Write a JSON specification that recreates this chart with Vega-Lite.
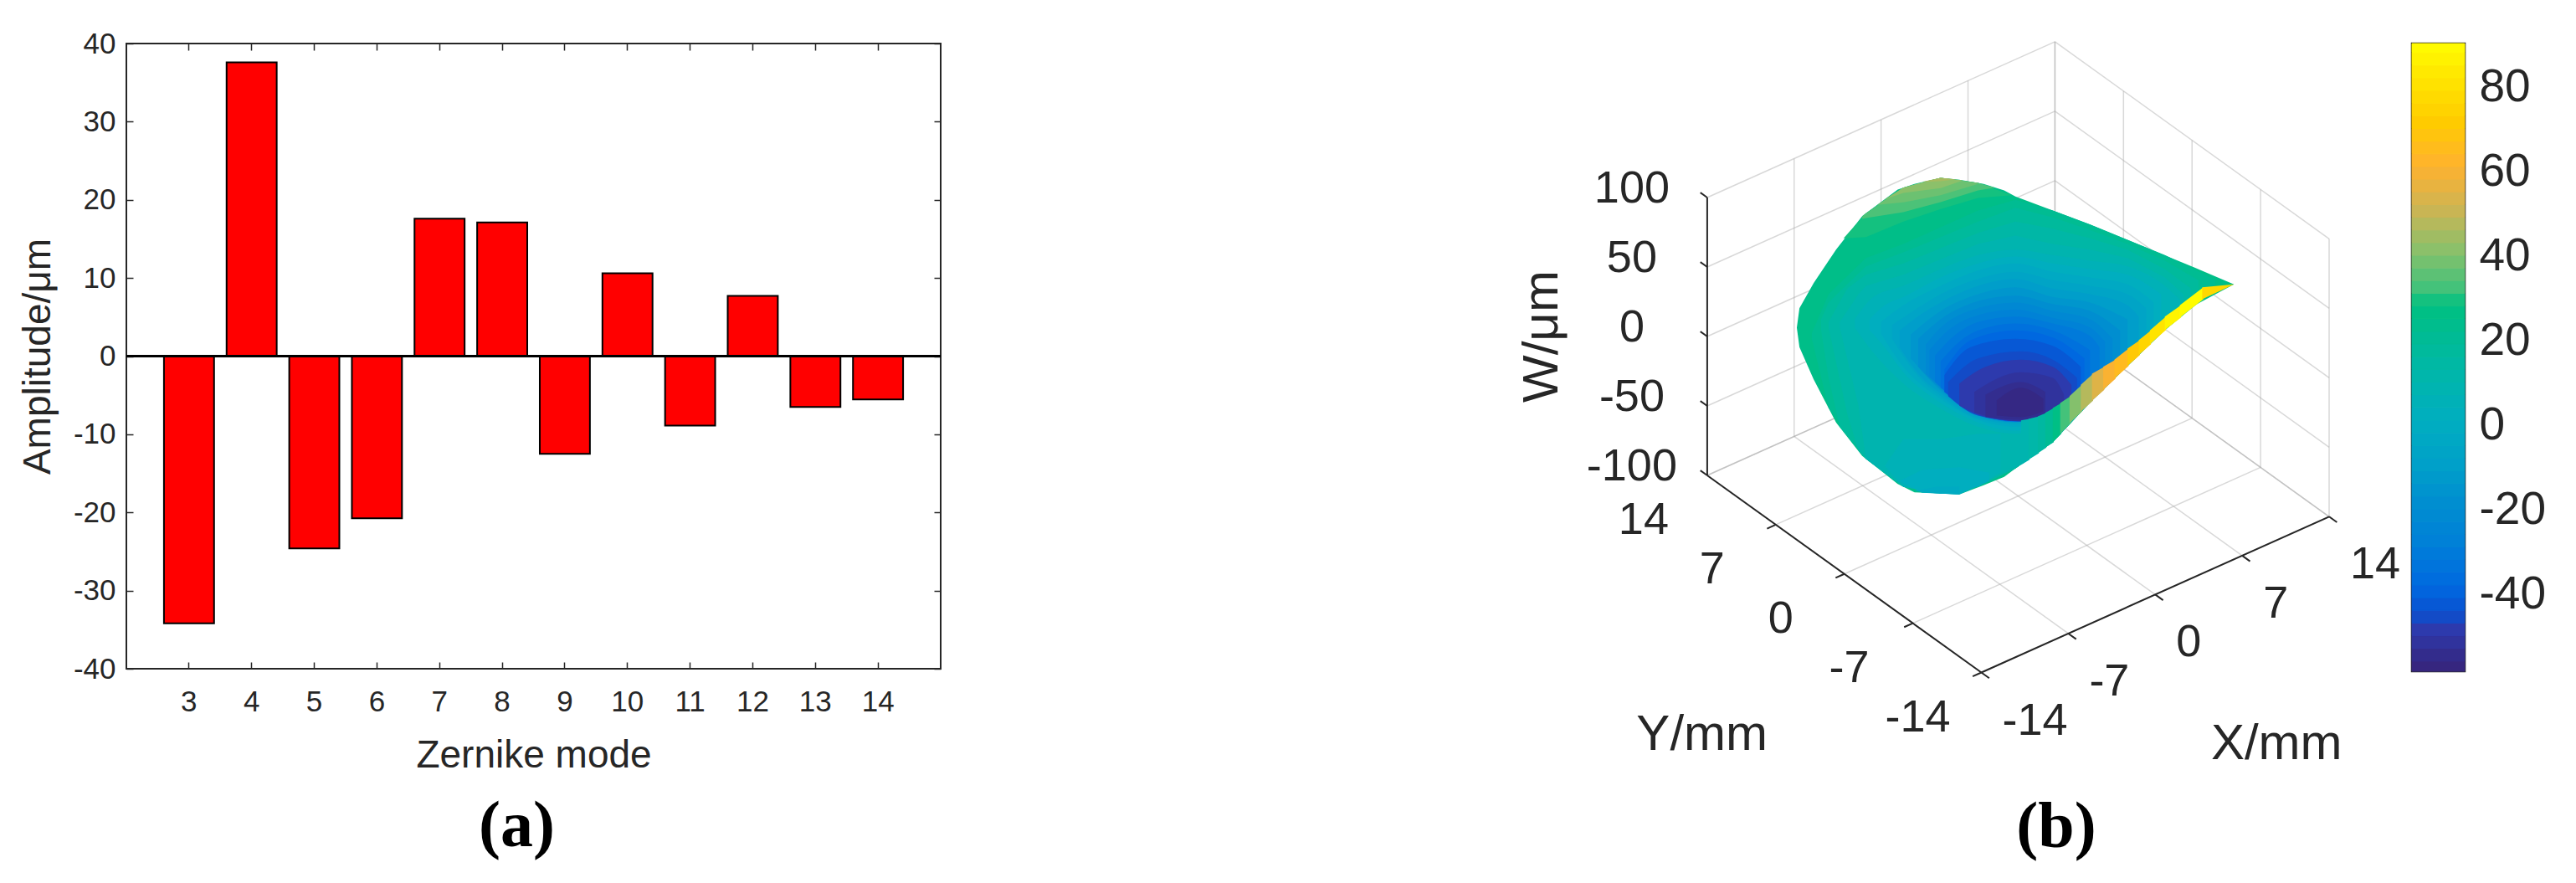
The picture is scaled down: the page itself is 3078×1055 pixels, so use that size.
{"$schema":"https://vega.github.io/schema/vega-lite/v6.json","background":"white","padding":{"left":21,"top":34,"right":0,"bottom":0},"bounds":"flush","spacing":20,"config":{"font":"Liberation Sans","axis":{"labelColor":"#262626","titleColor":"#262626","tickColor":"#262626","labelFont":"Liberation Sans","titleFont":"Liberation Sans","titleFontWeight":"normal"},"title":{"font":"Liberation Serif","fontWeight":"bold","fontSize":78,"color":"#000000"}},
"datasets":{
"bars":[{"mode":3,"amp":-34.2},{"mode":4,"amp":37.6},{"mode":5,"amp":-24.6},{"mode":6,"amp":-20.75},{"mode":7,"amp":17.6},{"mode":8,"amp":17.1},{"mode":9,"amp":-12.5},{"mode":10,"amp":10.6},{"mode":11,"amp":-8.9},{"mode":12,"amp":7.7},{"mode":13,"amp":-6.5},{"mode":14,"amp":-5.55}],
"grid":[{"X":-14,"Y":-14,"W":-100,"X2":-14,"Y2":14,"W2":-100},{"X":-7,"Y":-14,"W":-100,"X2":-7,"Y2":14,"W2":-100},{"X":0,"Y":-14,"W":-100,"X2":0,"Y2":14,"W2":-100},{"X":7,"Y":-14,"W":-100,"X2":7,"Y2":14,"W2":-100},{"X":14,"Y":-14,"W":-100,"X2":14,"Y2":14,"W2":-100},
{"X":-14,"Y":-14,"W":-100,"X2":14,"Y2":-14,"W2":-100},{"X":-14,"Y":-7,"W":-100,"X2":14,"Y2":-7,"W2":-100},{"X":-14,"Y":0,"W":-100,"X2":14,"Y2":0,"W2":-100},{"X":-14,"Y":7,"W":-100,"X2":14,"Y2":7,"W2":-100},{"X":-14,"Y":14,"W":-100,"X2":14,"Y2":14,"W2":-100},
{"X":-14,"Y":14,"W":-100,"X2":-14,"Y2":14,"W2":100},{"X":-7,"Y":14,"W":-100,"X2":-7,"Y2":14,"W2":100},{"X":0,"Y":14,"W":-100,"X2":0,"Y2":14,"W2":100},{"X":7,"Y":14,"W":-100,"X2":7,"Y2":14,"W2":100},{"X":14,"Y":14,"W":-100,"X2":14,"Y2":14,"W2":100},
{"X":-14,"Y":14,"W":-100,"X2":14,"Y2":14,"W2":-100},{"X":-14,"Y":14,"W":-50,"X2":14,"Y2":14,"W2":-50},{"X":-14,"Y":14,"W":0,"X2":14,"Y2":14,"W2":0},{"X":-14,"Y":14,"W":50,"X2":14,"Y2":14,"W2":50},{"X":-14,"Y":14,"W":100,"X2":14,"Y2":14,"W2":100},
{"X":14,"Y":-14,"W":-100,"X2":14,"Y2":-14,"W2":100},{"X":14,"Y":-7,"W":-100,"X2":14,"Y2":-7,"W2":100},{"X":14,"Y":0,"W":-100,"X2":14,"Y2":0,"W2":100},{"X":14,"Y":7,"W":-100,"X2":14,"Y2":7,"W2":100},{"X":14,"Y":14,"W":-100,"X2":14,"Y2":14,"W2":100},
{"X":14,"Y":-14,"W":-100,"X2":14,"Y2":14,"W2":-100},{"X":14,"Y":-14,"W":-50,"X2":14,"Y2":14,"W2":-50},{"X":14,"Y":-14,"W":0,"X2":14,"Y2":14,"W2":0},{"X":14,"Y":-14,"W":50,"X2":14,"Y2":14,"W2":50},{"X":14,"Y":-14,"W":100,"X2":14,"Y2":14,"W2":100}],
"axes":[{"X":-14,"Y":14,"W":-100,"X2":-14,"Y2":14,"W2":100},{"X":-14,"Y":-14,"W":-100,"X2":-14,"Y2":14,"W2":-100},{"X":-14,"Y":-14,"W":-100,"X2":14,"Y2":-14,"W2":-100},
{"X":-14,"Y":14,"W":-100,"X2":-14,"Y2":14.7,"W2":-100},{"X":-14,"Y":14,"W":-50,"X2":-14,"Y2":14.7,"W2":-50},{"X":-14,"Y":14,"W":0,"X2":-14,"Y2":14.7,"W2":0},{"X":-14,"Y":14,"W":50,"X2":-14,"Y2":14.7,"W2":50},{"X":-14,"Y":14,"W":100,"X2":-14,"Y2":14.7,"W2":100},
{"X":-14,"Y":7,"W":-100,"X2":-14.7,"Y2":7,"W2":-100},{"X":-14,"Y":0,"W":-100,"X2":-14.7,"Y2":0,"W2":-100},{"X":-14,"Y":-7,"W":-100,"X2":-14.7,"Y2":-7,"W2":-100},{"X":-14,"Y":-14,"W":-100,"X2":-14.7,"Y2":-14,"W2":-100},
{"X":-14,"Y":-14,"W":-100,"X2":-14,"Y2":-14.8,"W2":-100},{"X":-7,"Y":-14,"W":-100,"X2":-7,"Y2":-14.8,"W2":-100},{"X":0,"Y":-14,"W":-100,"X2":0,"Y2":-14.8,"W2":-100},{"X":7,"Y":-14,"W":-100,"X2":7,"Y2":-14.8,"W2":-100},{"X":14,"Y":-14,"W":-100,"X2":14,"Y2":-14.8,"W2":-100}],
"surface":[
{"g":1,"w":24,"u":215,"a":720,"b":720},{"g":1,"w":24,"u":222,"a":650,"b":790},{"g":1,"w":24,"u":260,"a":560,"b":905},{"g":1,"w":24,"u":320,"a":440,"b":1060},{"g":1,"w":24,"u":390,"a":320,"b":1180},{"g":1,"w":24,"u":485,"a":225,"b":1280},{"g":1,"w":24,"u":530,"a":205,"b":1310},{"g":1,"w":24,"u":600,"a":183,"b":1314},{"g":1,"w":24,"u":650,"a":190,"b":1318},{"g":1,"w":24,"u":715,"a":205,"b":1285},{"g":1,"w":24,"u":770,"a":228,"b":1255},{"g":1,"w":24,"u":800,"a":250,"b":1225},{"g":1,"w":24,"u":900,"a":300,"b":1130},{"g":1,"w":24,"u":1000,"a":350,"b":988},{"g":1,"w":24,"u":1090,"a":400,"b":870},{"g":1,"w":24,"u":1190,"a":455,"b":740},{"g":1,"w":24,"u":1280,"a":505,"b":640},{"g":1,"w":24,"u":1385,"a":565,"b":565},
{"g":2,"w":28,"u":340,"a":400,"b":400},{"g":2,"w":28,"u":400,"a":310,"b":395},{"g":2,"w":28,"u":500,"a":218,"b":340},{"g":2,"w":28,"u":600,"a":183,"b":295},{"g":2,"w":28,"u":700,"a":201,"b":255},{"g":2,"w":28,"u":790,"a":245,"b":245},
{"g":3,"w":32,"u":390,"a":320,"b":330},{"g":3,"w":32,"u":400,"a":310,"b":327},{"g":3,"w":32,"u":500,"a":218,"b":306},{"g":3,"w":32,"u":600,"a":183,"b":270},{"g":3,"w":32,"u":700,"a":201,"b":228},{"g":3,"w":32,"u":745,"a":218,"b":218},
{"g":4,"w":36,"u":430,"a":280,"b":280},{"g":4,"w":36,"u":500,"a":218,"b":271},{"g":4,"w":36,"u":600,"a":183,"b":245},{"g":4,"w":36,"u":700,"a":201,"b":205},
{"g":5,"w":40,"u":450,"a":260,"b":260},{"g":5,"w":40,"u":500,"a":218,"b":237},{"g":5,"w":40,"u":600,"a":183,"b":220},{"g":5,"w":40,"u":660,"a":192,"b":192},
{"g":6,"w":44,"u":550,"a":197,"b":197},{"g":6,"w":44,"u":600,"a":183,"b":195},{"g":6,"w":44,"u":640,"a":188,"b":188},
{"g":7,"w":20,"u":255,"a":740,"b":760},{"g":7,"w":20,"u":300,"a":600,"b":1008},{"g":7,"w":20,"u":400,"a":470,"b":1190},{"g":7,"w":20,"u":500,"a":420,"b":1290},{"g":7,"w":20,"u":600,"a":360,"b":1314},{"g":7,"w":20,"u":700,"a":300,"b":1290},{"g":7,"w":20,"u":800,"a":262,"b":1225},{"g":7,"w":20,"u":900,"a":300,"b":1130},{"g":7,"w":20,"u":1000,"a":350,"b":988},{"g":7,"w":20,"u":1100,"a":405,"b":857},{"g":7,"w":20,"u":1200,"a":460,"b":728},{"g":7,"w":20,"u":1300,"a":525,"b":620},{"g":7,"w":20,"u":1335,"a":550,"b":565},
{"g":8,"w":16,"u":280,"a":690,"b":730},{"g":8,"w":16,"u":300,"a":630,"b":900},{"g":8,"w":16,"u":330,"a":590,"b":1075},{"g":8,"w":16,"u":400,"a":500,"b":1190},{"g":8,"w":16,"u":500,"a":450,"b":1290},{"g":8,"w":16,"u":600,"a":395,"b":1314},{"g":8,"w":16,"u":700,"a":340,"b":1290},{"g":8,"w":16,"u":800,"a":290,"b":1225},{"g":8,"w":16,"u":900,"a":325,"b":1130},{"g":8,"w":16,"u":1000,"a":370,"b":988},{"g":8,"w":16,"u":1100,"a":420,"b":857},{"g":8,"w":16,"u":1200,"a":480,"b":728},{"g":8,"w":16,"u":1290,"a":550,"b":625},
{"g":9,"w":12,"u":300,"a":700,"b":720},{"g":9,"w":12,"u":350,"a":580,"b":1030},{"g":9,"w":12,"u":380,"a":550,"b":1160},{"g":9,"w":12,"u":400,"a":530,"b":1190},{"g":9,"w":12,"u":500,"a":490,"b":1290},{"g":9,"w":12,"u":600,"a":435,"b":1314},{"g":9,"w":12,"u":700,"a":380,"b":1290},{"g":9,"w":12,"u":800,"a":340,"b":1225},{"g":9,"w":12,"u":900,"a":365,"b":1130},{"g":9,"w":12,"u":1000,"a":400,"b":988},{"g":9,"w":12,"u":1100,"a":440,"b":857},{"g":9,"w":12,"u":1200,"a":510,"b":728},{"g":9,"w":12,"u":1270,"a":580,"b":650},
{"g":10,"w":8,"u":330,"a":700,"b":720},{"g":10,"w":8,"u":380,"a":600,"b":1000},{"g":10,"w":8,"u":400,"a":570,"b":1190},{"g":10,"w":8,"u":500,"a":530,"b":1290},{"g":10,"w":8,"u":600,"a":475,"b":1314},{"g":10,"w":8,"u":700,"a":420,"b":1280},{"g":10,"w":8,"u":800,"a":390,"b":1220},{"g":10,"w":8,"u":900,"a":420,"b":1130},{"g":10,"w":8,"u":1000,"a":440,"b":988},{"g":10,"w":8,"u":1100,"a":470,"b":857},{"g":10,"w":8,"u":1200,"a":540,"b":728},{"g":10,"w":8,"u":1250,"a":600,"b":670},
{"g":11,"w":4,"u":450,"a":1215,"b":1215},{"g":11,"w":4,"u":500,"a":1120,"b":1290},{"g":11,"w":4,"u":600,"a":1120,"b":1314},{"g":11,"w":4,"u":700,"a":1100,"b":1290},{"g":11,"w":4,"u":760,"a":1100,"b":1240},
{"g":12,"w":0,"u":490,"a":1270,"b":1270},{"g":12,"w":0,"u":550,"a":1230,"b":1312},{"g":12,"w":0,"u":650,"a":1220,"b":1318},{"g":12,"w":0,"u":730,"a":1240,"b":1270},
{"g":13,"w":-3,"u":530,"a":1305,"b":1305},{"g":13,"w":-3,"u":590,"a":1290,"b":1314},{"g":13,"w":-3,"u":650,"a":1290,"b":1318},
{"g":14,"w":4,"u":370,"a":690,"b":720},{"g":14,"w":4,"u":420,"a":610,"b":810},{"g":14,"w":4,"u":500,"a":570,"b":920},{"g":14,"w":4,"u":600,"a":510,"b":1010},{"g":14,"w":4,"u":700,"a":460,"b":1075},{"g":14,"w":4,"u":800,"a":440,"b":1100},{"g":14,"w":4,"u":900,"a":460,"b":1050},{"g":14,"w":4,"u":1000,"a":480,"b":960},{"g":14,"w":4,"u":1100,"a":500,"b":840},{"g":14,"w":4,"u":1200,"a":570,"b":710},{"g":14,"w":4,"u":1240,"a":620,"b":670},
{"g":15,"w":0,"u":410,"a":690,"b":730},{"g":15,"w":0,"u":450,"a":640,"b":790},{"g":15,"w":0,"u":500,"a":610,"b":880},{"g":15,"w":0,"u":600,"a":540,"b":990},{"g":15,"w":0,"u":700,"a":490,"b":1060},{"g":15,"w":0,"u":800,"a":465,"b":1090},{"g":15,"w":0,"u":900,"a":490,"b":1040},{"g":15,"w":0,"u":1000,"a":510,"b":950},{"g":15,"w":0,"u":1100,"a":530,"b":830},{"g":15,"w":0,"u":1190,"a":600,"b":715},
{"g":16,"w":-4,"u":440,"a":700,"b":740},{"g":16,"w":-4,"u":500,"a":640,"b":860},{"g":16,"w":-4,"u":600,"a":570,"b":975},{"g":16,"w":-4,"u":700,"a":515,"b":1050},{"g":16,"w":-4,"u":800,"a":490,"b":1075},{"g":16,"w":-4,"u":900,"a":520,"b":1035},{"g":16,"w":-4,"u":1000,"a":540,"b":945},{"g":16,"w":-4,"u":1100,"a":565,"b":825},{"g":16,"w":-4,"u":1170,"a":630,"b":740},
{"g":17,"w":-8,"u":470,"a":710,"b":760},{"g":17,"w":-8,"u":550,"a":640,"b":910},{"g":17,"w":-8,"u":600,"a":600,"b":965},{"g":17,"w":-8,"u":700,"a":545,"b":1045},{"g":17,"w":-8,"u":800,"a":520,"b":1065},{"g":17,"w":-8,"u":900,"a":550,"b":1030},{"g":17,"w":-8,"u":1000,"a":570,"b":940},{"g":17,"w":-8,"u":1100,"a":600,"b":820},{"g":17,"w":-8,"u":1150,"a":650,"b":760},
{"g":18,"w":-12,"u":490,"a":730,"b":790},{"g":18,"w":-12,"u":550,"a":670,"b":900},{"g":18,"w":-12,"u":600,"a":630,"b":955},{"g":18,"w":-12,"u":700,"a":570,"b":1040},{"g":18,"w":-12,"u":800,"a":545,"b":1060},{"g":18,"w":-12,"u":900,"a":580,"b":1030},{"g":18,"w":-12,"u":1000,"a":600,"b":940},{"g":18,"w":-12,"u":1100,"a":640,"b":820},{"g":18,"w":-12,"u":1130,"a":680,"b":785},
{"g":19,"w":-16,"u":520,"a":745,"b":830},{"g":19,"w":-16,"u":600,"a":660,"b":945},{"g":19,"w":-16,"u":700,"a":600,"b":1035},{"g":19,"w":-16,"u":800,"a":575,"b":1058},{"g":19,"w":-16,"u":900,"a":610,"b":1030},{"g":19,"w":-16,"u":1000,"a":630,"b":940},{"g":19,"w":-16,"u":1100,"a":690,"b":815},
{"g":20,"w":-20,"u":540,"a":760,"b":860},{"g":20,"w":-20,"u":600,"a":690,"b":940},{"g":20,"w":-20,"u":700,"a":625,"b":1030},{"g":20,"w":-20,"u":800,"a":605,"b":1058},{"g":20,"w":-20,"u":900,"a":635,"b":1030},{"g":20,"w":-20,"u":1000,"a":660,"b":940},{"g":20,"w":-20,"u":1080,"a":730,"b":850},
{"g":21,"w":-24,"u":560,"a":780,"b":885},{"g":21,"w":-24,"u":600,"a":720,"b":935},{"g":21,"w":-24,"u":700,"a":650,"b":1025},{"g":21,"w":-24,"u":800,"a":630,"b":1057},{"g":21,"w":-24,"u":900,"a":660,"b":1030},{"g":21,"w":-24,"u":1000,"a":690,"b":940},{"g":21,"w":-24,"u":1060,"a":760,"b":870},
{"g":22,"w":-28,"u":570,"a":800,"b":895},{"g":22,"w":-28,"u":620,"a":730,"b":955},{"g":22,"w":-28,"u":700,"a":675,"b":1025},{"g":22,"w":-28,"u":800,"a":655,"b":1057},{"g":22,"w":-28,"u":900,"a":685,"b":1028},{"g":22,"w":-28,"u":1000,"a":720,"b":940},{"g":22,"w":-28,"u":1040,"a":770,"b":895},
{"g":23,"w":-32,"u":585,"a":820,"b":915},{"g":23,"w":-32,"u":640,"a":745,"b":975},{"g":23,"w":-32,"u":700,"a":700,"b":1025},{"g":23,"w":-32,"u":800,"a":680,"b":1056},{"g":23,"w":-32,"u":900,"a":705,"b":1025},{"g":23,"w":-32,"u":1000,"a":750,"b":945},{"g":23,"w":-32,"u":1025,"a":790,"b":915},
{"g":24,"w":-36,"u":600,"a":840,"b":935},{"g":24,"w":-36,"u":650,"a":770,"b":985},{"g":24,"w":-36,"u":700,"a":730,"b":1025},{"g":24,"w":-36,"u":800,"a":705,"b":1055},{"g":24,"w":-36,"u":900,"a":730,"b":1025},{"g":24,"w":-36,"u":1000,"a":800,"b":945},
{"g":25,"w":-40,"u":610,"a":870,"b":950},{"g":25,"w":-40,"u":680,"a":765,"b":1010},{"g":25,"w":-40,"u":800,"a":730,"b":1055},{"g":25,"w":-40,"u":900,"a":755,"b":1025},{"g":25,"w":-40,"u":985,"a":830,"b":960},
{"g":26,"w":-44,"u":610,"a":890,"b":950},{"g":26,"w":-44,"u":680,"a":790,"b":1015},{"g":26,"w":-44,"u":800,"a":760,"b":1055},{"g":26,"w":-44,"u":900,"a":785,"b":1025},{"g":26,"w":-44,"u":975,"a":860,"b":975},
{"g":27,"w":-47,"u":620,"a":915,"b":965},{"g":27,"w":-47,"u":700,"a":830,"b":1035},{"g":27,"w":-47,"u":815,"a":805,"b":1055},{"g":27,"w":-47,"u":900,"a":835,"b":1025},{"g":27,"w":-47,"u":965,"a":900,"b":985},
{"g":28,"w":-50,"u":650,"a":920,"b":1000},{"g":28,"w":-50,"u":720,"a":860,"b":1040},{"g":28,"w":-50,"u":815,"a":835,"b":1055},{"g":28,"w":-50,"u":900,"a":860,"b":1025},{"g":28,"w":-50,"u":950,"a":925,"b":1000},
{"g":29,"w":-53,"u":690,"a":950,"b":1025},{"g":29,"w":-53,"u":815,"a":880,"b":1055},{"g":29,"w":-53,"u":900,"a":900,"b":1025},{"g":29,"w":-53,"u":930,"a":960,"b":1010},
{"g":30,"w":-55.5,"u":720,"a":960,"b":1040},{"g":30,"w":-55.5,"u":815,"a":915,"b":1050},{"g":30,"w":-55.5,"u":880,"a":950,"b":1030},
{"g":31,"w":-57.5,"u":750,"a":980,"b":1035},{"g":31,"w":-57.5,"u":815,"a":935,"b":1040},{"g":31,"w":-57.5,"u":875,"a":975,"b":1020},
{"g":40,"w":8,"u":815,"a":1052,"b":1212},{"g":40,"w":8,"u":838,"a":1047,"b":1193},
{"g":41,"w":11,"u":835,"a":1047,"b":1193},{"g":41,"w":11,"u":863,"a":1038,"b":1170},
{"g":42,"w":14,"u":860,"a":1038,"b":1170},{"g":42,"w":14,"u":883,"a":1025,"b":1150},
{"g":43,"w":19,"u":880,"a":1025,"b":1150},{"g":43,"w":19,"u":903,"a":1008,"b":1130},
{"g":44,"w":25,"u":900,"a":1008,"b":1130},{"g":44,"w":25,"u":923,"a":990,"b":1100},
{"g":45,"w":31,"u":920,"a":990,"b":1100},{"g":45,"w":31,"u":948,"a":965,"b":1062},
{"g":46,"w":39,"u":945,"a":965,"b":1062},{"g":46,"w":39,"u":978,"a":925,"b":1021},
{"g":47,"w":46,"u":975,"a":925,"b":1021},{"g":47,"w":46,"u":1008,"a":885,"b":982},
{"g":48,"w":53,"u":1005,"a":885,"b":982},{"g":48,"w":53,"u":1038,"a":860,"b":943},
{"g":49,"w":59,"u":1035,"a":860,"b":943},{"g":49,"w":59,"u":1068,"a":835,"b":903},
{"g":50,"w":63,"u":1065,"a":835,"b":903},{"g":50,"w":63,"u":1103,"a":795,"b":857},
{"g":51,"w":69,"u":1100,"a":795,"b":857},{"g":51,"w":69,"u":1133,"a":765,"b":818},
{"g":52,"w":74,"u":1130,"a":765,"b":818},{"g":52,"w":74,"u":1163,"a":730,"b":779},
{"g":53,"w":80,"u":1160,"a":730,"b":779},{"g":53,"w":80,"u":1203,"a":680,"b":728},
{"g":54,"w":86,"u":1200,"a":680,"b":728},{"g":54,"w":86,"u":1243,"a":640,"b":684},
{"g":55,"w":89,"u":1240,"a":640,"b":684},{"g":55,"w":89,"u":1303,"a":575,"b":618},
{"g":56,"w":75,"u":1300,"a":575,"b":618},{"g":56,"w":75,"u":1385,"a":565,"b":565}],
"cbar":[{"w":-58.4,"w2":-56},{"w":-56,"w2":-53},{"w":-53,"w2":-50},{"w":-50,"w2":-47},{"w":-47,"w2":-44},{"w":-44,"w2":-41},{"w":-41,"w2":-38},{"w":-38,"w2":-35},{"w":-35,"w2":-32},{"w":-32,"w2":-29},{"w":-29,"w2":-26},{"w":-26,"w2":-23},{"w":-23,"w2":-20},{"w":-20,"w2":-17},{"w":-17,"w2":-14},{"w":-14,"w2":-11},{"w":-11,"w2":-8},{"w":-8,"w2":-5},{"w":-5,"w2":-2},{"w":-2,"w2":1},{"w":1,"w2":4},{"w":4,"w2":7},{"w":7,"w2":10},{"w":10,"w2":13},{"w":13,"w2":16},{"w":16,"w2":19},{"w":19,"w2":22},{"w":22,"w2":25},{"w":25,"w2":28},{"w":28,"w2":31},{"w":31,"w2":34},{"w":34,"w2":37},{"w":37,"w2":40},{"w":40,"w2":43},{"w":43,"w2":46},{"w":46,"w2":49},{"w":49,"w2":52},{"w":52,"w2":55},{"w":55,"w2":58},{"w":58,"w2":61},{"w":61,"w2":64},{"w":64,"w2":67},{"w":67,"w2":70},{"w":70,"w2":73},{"w":73,"w2":76},{"w":76,"w2":79},{"w":79,"w2":82},{"w":82,"w2":85},{"w":85,"w2":88},{"w":88,"w2":90.1}]
},
"hconcat":[
{"width":973,"height":747,"view":{"stroke":"#262626","strokeWidth":2},"title":{"text":"(a)","orient":"bottom","anchor":"middle","dx":-20,"offset":24},
"layer":[
{"data":{"name":"bars"},"mark":{"type":"bar","color":"#ff0000","stroke":"#000000","strokeWidth":2},"encoding":{
"x":{"field":"mode","type":"ordinal","scale":{"paddingInner":0.2,"paddingOuter":0.6},"axis":{"orient":"bottom","title":"Zernike mode","labelAngle":0,"labelFontSize":35,"titleFontSize":46,"tickSize":-8,"tickWidth":1.5,"labelPadding":30,"titlePadding":24,"domain":false}},
"y":{"field":"amp","type":"quantitative","scale":{"domain":[-40,40],"nice":false},"axis":{"orient":"left","title":"Amplitude/μm","values":[-40,-30,-20,-10,0,10,20,30,40],"labelExpr":"datum.value+''","grid":false,"labelFontSize":35,"titleFontSize":46,"tickSize":-8,"tickWidth":1.5,"labelPadding":21,"titlePadding":18,"domain":false}}}},
{"data":{"name":"bars"},"mark":{"type":"bar","opacity":0},"encoding":{
"x":{"field":"mode","type":"ordinal","axis":{"orient":"top","title":null,"labels":false,"tickSize":-8,"tickWidth":1.5,"domain":false}},
"y":{"field":"amp","type":"quantitative","axis":{"orient":"right","title":null,"labels":false,"values":[-40,-30,-20,-10,0,10,20,30,40],"grid":false,"tickSize":-8,"tickWidth":1.5,"domain":false}}}},
{"data":{"name":"bars"},"mark":{"type":"rule","color":"#000000","strokeWidth":2},"encoding":{"y":{"datum":0,"type":"quantitative","axis":null}}}
],"resolve":{"axis":{"x":"independent","y":"independent"}}},
{"width":1718,"height":747,"view":{"stroke":null},"title":{"text":"(b)","orient":"bottom","anchor":"middle","dx":454,"offset":31},
"layer":[
{"data":{"name":"grid"},"transform":[{"calculate":"2366.5+14.84*(datum.X+14)-11.7*(datum.Y+14)","as":"sx"},{"calculate":"802-6.65*(datum.X+14)-8.41*(datum.Y+14)-1.66*(datum.W+100)","as":"sy"},{"calculate":"2366.5+14.84*(datum.X2+14)-11.7*(datum.Y2+14)","as":"sx2"},{"calculate":"802-6.65*(datum.X2+14)-8.41*(datum.Y2+14)-1.66*(datum.W2+100)","as":"sy2"}],
"mark":{"type":"rule","color":"#a8a8a8","opacity":0.45,"strokeWidth":1.5},"encoding":{"x":{"field":"sx","type":"quantitative","scale":{"domain":[1143,2861],"nice":false,"zero":false},"axis":null},"y":{"field":"sy","type":"quantitative","scale":{"domain":[797.5,50.5],"nice":false,"zero":false},"axis":null},"x2":{"field":"sx2"},"y2":{"field":"sy2"}}},
{"data":{"name":"axes"},"transform":[{"calculate":"2366.5+14.84*(datum.X+14)-11.7*(datum.Y+14)","as":"sx"},{"calculate":"802-6.65*(datum.X+14)-8.41*(datum.Y+14)-1.66*(datum.W+100)","as":"sy"},{"calculate":"2366.5+14.84*(datum.X2+14)-11.7*(datum.Y2+14)","as":"sx2"},{"calculate":"802-6.65*(datum.X2+14)-8.41*(datum.Y2+14)-1.66*(datum.W2+100)","as":"sy2"}],
"mark":{"type":"rule","color":"#262626","strokeWidth":2},"encoding":{"x":{"field":"sx","type":"quantitative","axis":null},"y":{"field":"sy","type":"quantitative","axis":null},"x2":{"field":"sx2"},"y2":{"field":"sy2"}}},
{"data":{"name":"surface"},"transform":[{"filter":"datum.g<14"},{"calculate":"2050+datum.u/2.24","as":"sx"},{"calculate":"150+datum.a/3","as":"sy"},{"calculate":"150+datum.b/3","as":"sy2"}],
"mark":{"type":"area","interpolate":"linear"},"encoding":{"x":{"field":"sx","type":"quantitative","axis":null},"y":{"field":"sy","type":"quantitative","axis":null},"y2":{"field":"sy2"},"detail":{"field":"g","type":"nominal"},"color":{"field":"w","type":"quantitative","legend":null,"scale":{"domain":[-58.4,-50,-46,-40,-30,-20,-10,0,10,20,27,30,40,50,60,70,80,90],"range":["#36267f","#2d3aad","#0a50d0","#0068e0","#007fd8","#008ed0","#00a2c8","#00aebf","#00b6ab","#00bc92","#00c080","#3cc27c","#8cc06a","#d0b452","#ffb22e","#ffcb00","#ffe400","#ffff00"],"interpolate":"rgb"}}}},
{"data":{"name":"surface"},"transform":[{"filter":"datum.g>=14 && datum.g<40"},{"calculate":"2050+datum.u/2.24","as":"sx"},{"calculate":"150+datum.a/3","as":"sy"},{"calculate":"150+datum.b/3","as":"sy2"}],
"mark":{"type":"area","interpolate":"monotone"},"encoding":{"x":{"field":"sx","type":"quantitative","axis":null},"y":{"field":"sy","type":"quantitative","axis":null},"y2":{"field":"sy2"},"detail":{"field":"g","type":"nominal"},"color":{"field":"w","type":"quantitative","legend":null}}},
{"data":{"name":"surface"},"transform":[{"filter":"datum.g>=40"},{"calculate":"2050+datum.u/2.24","as":"sx"},{"calculate":"150+datum.a/3","as":"sy"},{"calculate":"150+datum.b/3","as":"sy2"}],
"mark":{"type":"area","interpolate":"linear"},"encoding":{"x":{"field":"sx","type":"quantitative","axis":null},"y":{"field":"sy","type":"quantitative","axis":null},"y2":{"field":"sy2"},"detail":{"field":"g","type":"nominal"},"color":{"field":"w","type":"quantitative","legend":null}}},
{"data":{"values":[{"t":"100","X":-14,"Y":14,"W":100},{"t":"50","X":-14,"Y":14,"W":50},{"t":"0","X":-14,"Y":14,"W":0},{"t":"-50","X":-14,"Y":14,"W":-50},{"t":"-100","X":-14,"Y":14,"W":-100}]},"transform":[{"calculate":"2366.5+14.84*(datum.X+14)-11.7*(datum.Y+14)","as":"sx"},{"calculate":"802-6.65*(datum.X+14)-8.41*(datum.Y+14)-1.66*(datum.W+100)","as":"sy"}],
"mark":{"type":"text","font":"Liberation Sans","fontSize":54,"color":"#262626","dx":-90,"dy":-10},"encoding":{"x":{"field":"sx","type":"quantitative","axis":null},"y":{"field":"sy","type":"quantitative","axis":null},"text":{"field":"t"}}},
{"data":{"values":[{"t":"14","X":-14,"Y":14,"W":-100},{"t":"7","X":-14,"Y":7,"W":-100},{"t":"0","X":-14,"Y":0,"W":-100},{"t":"-7","X":-14,"Y":-7,"W":-100},{"t":"-14","X":-14,"Y":-14,"W":-100}]},"transform":[{"calculate":"2366.5+14.84*(datum.X+14)-11.7*(datum.Y+14)","as":"sx"},{"calculate":"802-6.65*(datum.X+14)-8.41*(datum.Y+14)-1.66*(datum.W+100)","as":"sy"}],
"mark":{"type":"text","font":"Liberation Sans","fontSize":54,"color":"#262626","dx":-76,"dy":54},"encoding":{"x":{"field":"sx","type":"quantitative","axis":null},"y":{"field":"sy","type":"quantitative","axis":null},"text":{"field":"t"}}},
{"data":{"values":[{"t":"-14","X":-14,"Y":-14,"W":-100},{"t":"-7","X":-7,"Y":-14,"W":-100},{"t":"0","X":0,"Y":-14,"W":-100},{"t":"7","X":7,"Y":-14,"W":-100},{"t":"14","X":14,"Y":-14,"W":-100}]},"transform":[{"calculate":"2366.5+14.84*(datum.X+14)-11.7*(datum.Y+14)","as":"sx"},{"calculate":"802-6.65*(datum.X+14)-8.41*(datum.Y+14)-1.66*(datum.W+100)","as":"sy"}],
"mark":{"type":"text","font":"Liberation Sans","fontSize":54,"color":"#262626","align":"left","dx":25,"dy":58},"encoding":{"x":{"field":"sx","type":"quantitative","axis":null},"y":{"field":"sy","type":"quantitative","axis":null},"text":{"field":"t"}}},
{"data":{"values":[{"t":"Y/mm","X":-14,"Y":0,"W":-100}]},"transform":[{"calculate":"2366.5+14.84*(datum.X+14)-11.7*(datum.Y+14)","as":"sx"},{"calculate":"802-6.65*(datum.X+14)-8.41*(datum.Y+14)-1.66*(datum.W+100)","as":"sy"}],
"mark":{"type":"text","font":"Liberation Sans","fontSize":60,"color":"#262626","dx":-170,"dy":192},"encoding":{"x":{"field":"sx","type":"quantitative","axis":null},"y":{"field":"sy","type":"quantitative","axis":null},"text":{"field":"t"}}},
{"data":{"values":[{"t":"X/mm","X":0,"Y":-14,"W":-100}]},"transform":[{"calculate":"2366.5+14.84*(datum.X+14)-11.7*(datum.Y+14)","as":"sx"},{"calculate":"802-6.65*(datum.X+14)-8.41*(datum.Y+14)-1.66*(datum.W+100)","as":"sy"}],
"mark":{"type":"text","font":"Liberation Sans","fontSize":60,"color":"#262626","dx":145,"dy":179},"encoding":{"x":{"field":"sx","type":"quantitative","axis":null},"y":{"field":"sy","type":"quantitative","axis":null},"text":{"field":"t"}}},
{"data":{"values":[{"t":"W/μm","X":-14,"Y":14,"W":0}]},"transform":[{"calculate":"2366.5+14.84*(datum.X+14)-11.7*(datum.Y+14)","as":"sx"},{"calculate":"802-6.65*(datum.X+14)-8.41*(datum.Y+14)-1.66*(datum.W+100)","as":"sy"}],
"mark":{"type":"text","font":"Liberation Sans","fontSize":60,"color":"#262626","angle":270,"dy":-197},"encoding":{"x":{"field":"sx","type":"quantitative","axis":null},"y":{"field":"sy","type":"quantitative","axis":null},"text":{"field":"t"}}}
]},
{"width":63,"height":750,"view":{"stroke":"#262626","strokeWidth":2.5},"data":{"name":"cbar"},"mark":{"type":"rect"},"encoding":{
"y":{"field":"w","type":"quantitative","scale":{"domain":[-58.4,90.1],"nice":false,"zero":false},"axis":{"orient":"right","title":null,"values":[-40,-20,0,20,40,60,80],"labelExpr":"datum.value+''","grid":false,"labelFontSize":55,"tickSize":-8,"tickWidth":2,"labelPadding":25,"domain":false}},
"y2":{"field":"w2"},
"color":{"field":"w","type":"quantitative","legend":null,"scale":{"domain":[-58.4,-50,-46,-40,-30,-20,-10,0,10,20,27,30,40,50,60,70,80,90],"range":["#36267f","#2d3aad","#0a50d0","#0068e0","#007fd8","#008ed0","#00a2c8","#00aebf","#00b6ab","#00bc92","#00c080","#3cc27c","#8cc06a","#d0b452","#ffb22e","#ffcb00","#ffe400","#ffff00"],"interpolate":"rgb"}},
"stroke":{"field":"w","type":"quantitative","legend":null,"scale":{"domain":[-58.4,-50,-46,-40,-30,-20,-10,0,10,20,27,30,40,50,60,70,80,90],"range":["#36267f","#2d3aad","#0a50d0","#0068e0","#007fd8","#008ed0","#00a2c8","#00aebf","#00b6ab","#00bc92","#00c080","#3cc27c","#8cc06a","#d0b452","#ffb22e","#ffcb00","#ffe400","#ffff00"],"interpolate":"rgb"}}}}
]}
